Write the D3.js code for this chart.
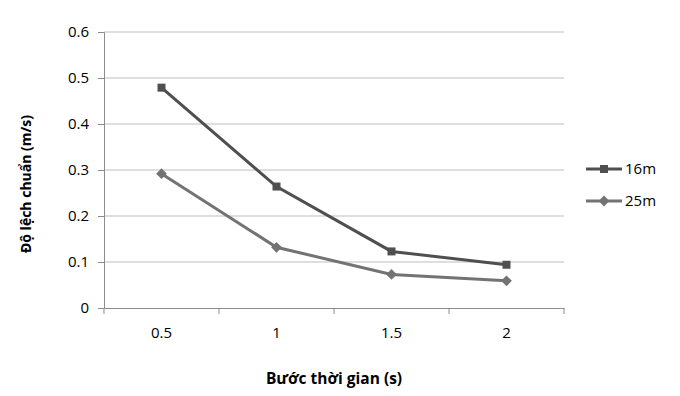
<!DOCTYPE html>
<meta charset="utf-8">
<head>
<style>
  body { margin: 0; background: #fff; }
  text { font-family: "Open Sans", "Liberation Sans", sans-serif; fill: #000; }
</style>
</head>
<body>
<script src="https://d3js.org/d3.v7.min.js"></script>
<div id="chart"></div>
<script>

// data
var steps = ["0.5", "1", "1.5", "2"];
var s16 = [0.479, 0.264, 0.123, 0.094];
var s25 = [0.292, 0.132, 0.073, 0.059];
var yTicks = [0, 0.1, 0.2, 0.3, 0.4, 0.5, 0.6];

var series = [
  {name: "16m", values: s16, color: "#4f4f4f", shape: "square"},
  {name: "25m", values: s25, color: "#737373", shape: "diamond"}
];

// diamond here is a square turned 45deg, like the spreadsheet marker
function marker(shape) {
  return d3.symbol().type(d3.symbolSquare).size(shape == "square" ? 64 : 58)();
}
function markerRot(shape) {
  return shape == "square" ? "" : " rotate(45)";
}

var margin = {top: 32, right: 116, bottom: 88, left: 104},
    width = 680 - margin.left - margin.right,
    height = 396 - margin.top - margin.bottom;

var svg = d3.select("#chart").append("svg")
  .attr("width", 680)
  .attr("height", 396)
  .append("g")
  .attr("transform", "translate(" + margin.left + "," + margin.top + ")");

var x = d3.scaleBand().domain(steps).range([0, width]);
var y = d3.scaleLinear().domain([0, 0.6]).range([height, 0]);

// gridlines
svg.selectAll(".grid")
  .data(yTicks.slice(1))
  .enter().append("line")
  .attr("x1", 0).attr("x2", width)
  .attr("y1", function(d) { return y(d); })
  .attr("y2", function(d) { return y(d); })
  .attr("stroke", "#bdbdbd").attr("stroke-width", 1);

// y axis
var yAxis = svg.append("g")
  .call(d3.axisLeft(y).tickValues(yTicks).tickFormat(function(d) { return d3.format("")(d); }).tickSize(6).tickPadding(9));
yAxis.select(".domain").attr("stroke", "#8c8c8c");
yAxis.selectAll(".tick line").attr("stroke", "#8c8c8c");
yAxis.selectAll(".tick text").style("font-size", "15px").attr("fill", "#000");

// x axis, ticks between categories
var xAxis = svg.append("g")
  .attr("transform", "translate(0," + height + ")")
  .call(d3.axisBottom(x).tickSize(0).tickPadding(19));
xAxis.select(".domain").attr("stroke", "#8c8c8c");
xAxis.selectAll(".tick text").style("font-size", "15px").attr("fill", "#000");

var bounds = d3.range(steps.length + 1).map(function(i) { return i * x.step(); });
svg.selectAll(".xtick")
  .data(bounds)
  .enter().append("line")
  .attr("x1", function(d) { return d; }).attr("x2", function(d) { return d; })
  .attr("y1", height).attr("y2", height + 6)
  .attr("stroke", "#8c8c8c");

// lines + markers
var line = d3.line()
  .x(function(d, i) { return x(steps[i]) + x.bandwidth() / 2; })
  .y(function(d) { return y(d); });

series.forEach(function(s) {
  svg.append("path")
    .datum(s.values)
    .attr("d", line)
    .attr("fill", "none")
    .attr("stroke", s.color)
    .attr("stroke-width", 3);
  svg.selectAll(".pt-" + s.name)
    .data(s.values)
    .enter().append("path")
    .attr("d", marker(s.shape))
    .attr("transform", function(d, i) {
      return "translate(" + (x(steps[i]) + x.bandwidth() / 2) + "," + y(d) + ")" + markerRot(s.shape);
    })
    .attr("fill", s.color);
});

// legend
var legend = svg.selectAll(".legend")
  .data(series)
  .enter().append("g")
  .attr("transform", function(d, i) { return "translate(" + (width + 22) + "," + (137 + i * 32) + ")"; });
legend.append("line")
  .attr("x1", 0).attr("x2", 36)
  .attr("stroke", function(d) { return d.color; })
  .attr("stroke-width", 3);
legend.append("path")
  .attr("d", function(d) { return marker(d.shape); })
  .attr("transform", function(d) { return "translate(18,0)" + markerRot(d.shape); })
  .attr("fill", function(d) { return d.color; });
legend.append("text")
  .attr("x", 39).attr("dy", "0.35em")
  .style("font-size", "15px")
  .text(function(d) { return d.name; });

// axis titles
svg.append("text")
  .attr("x", width / 2).attr("y", height + 76)
  .attr("text-anchor", "middle")
  .style("font-size", "15.5px").style("font-weight", "bold")
  .text("Bước thời gian (s)");

svg.append("text")
  .attr("transform", "translate(" + (-73) + "," + (height / 2 + 14) + ") rotate(-90)")
  .attr("text-anchor", "middle")
  .style("font-size", "14px").style("font-weight", "bold")
  .text("Độ lệch chuẩn (m/s)");

</script>
</body>
